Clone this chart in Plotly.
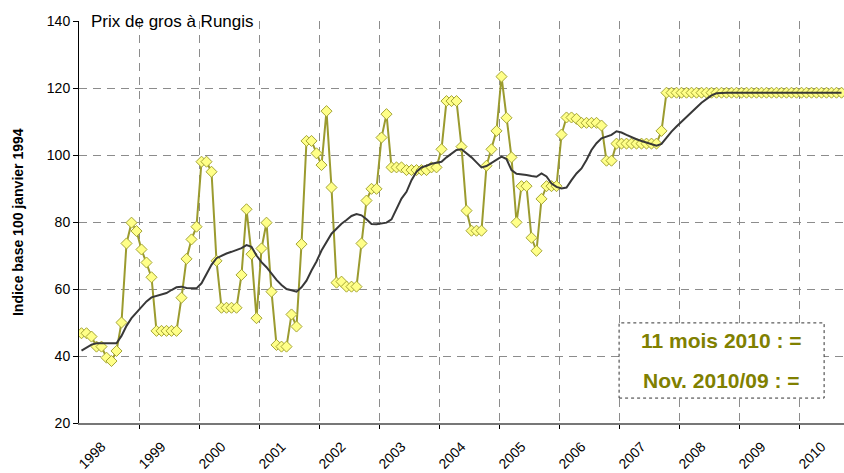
import plotly.graph_objects as go

# ---- data ----
years = [str(y) for y in range(1998, 2011)]
months = [f"{1998 + k // 12}-{k % 12 + 1:02d}" for k in range(153)]

prix = [
    46.8, 46.8, 45.8, 42.8, 42.8, 39.5, 38.5, 41.5, 50.0, 73.6, 79.8, 77.3,      # 1998
    71.8, 67.9, 63.5, 47.5, 47.5, 47.5, 47.5, 47.5, 57.4, 69.0, 74.8, 78.6,      # 1999
    98.0, 98.0, 95.0, 68.4, 54.4, 54.4, 54.4, 54.4, 64.2, 83.8, 70.4, 51.3,      # 2000
    72.1, 79.8, 59.2, 43.3, 42.8, 42.8, 52.4, 48.8, 73.4, 104.2, 104.2, 100.5,   # 2001
    97.0, 113.1, 90.3, 61.9, 62.2, 60.7, 60.7, 60.7, 73.6, 86.4, 89.9, 89.9,     # 2002
    105.2, 112.2, 96.3, 96.3, 96.3, 95.5, 95.5, 95.5, 95.5, 95.5, 96.3, 96.3,    # 2003
    101.7, 116.1, 116.1, 116.1, 102.5, 83.4, 77.4, 77.4, 77.4, 96.8, 101.7, 107.2,  # 2004
    123.4, 111.1, 99.3, 79.9, 90.7, 90.7, 75.3, 71.4, 86.9, 90.7, 90.7, 90.7,    # 2005
    106.1, 111.2, 111.2, 110.8, 109.6, 109.6, 109.6, 109.6, 108.8, 98.3, 98.3, 103.4,  # 2006
    103.4, 103.4, 103.4, 103.4, 103.4, 103.4, 103.4, 103.4, 107.2, 118.6, 118.6, 118.6,  # 2007
    118.6, 118.6, 118.6, 118.6, 118.6, 118.6, 118.6, 118.6, 118.6, 118.6, 118.6, 118.6,  # 2008
    118.6, 118.6, 118.6, 118.6, 118.6, 118.6, 118.6, 118.6, 118.6, 118.6, 118.6, 118.6,  # 2009
    118.6, 118.6, 118.6, 118.6, 118.6, 118.6, 118.6, 118.6, 118.6,                       # 2010
]

moyenne = [
    41.6, 42.6, 43.4, 43.8, 43.8, 43.8, 43.8, 43.8, 46.0, 49.0, 51.3, 53.0,      # 1998
    54.7, 56.3, 57.5, 57.9, 58.2, 58.8, 59.7, 60.5, 60.7, 60.3, 60.2, 60.2,      # 1999
    61.7, 64.5, 67.2, 69.2, 70.0, 70.6, 71.1, 71.6, 72.2, 73.1, 72.6, 70.0,      # 2000
    68.0, 66.5, 64.5, 62.7, 61.2, 60.0, 59.6, 59.2, 60.5, 62.5, 65.5, 68.2,      # 2001
    71.5, 74.0, 76.5, 78.0, 79.5, 80.6, 81.8, 82.4, 82.0, 80.8, 79.4, 79.3,      # 2002
    79.6, 79.8, 80.8, 84.0, 87.0, 89.0, 92.5, 95.0, 96.3, 96.8, 97.4, 97.7,      # 2003
    98.0, 99.3, 100.5, 101.5, 101.7, 100.5, 99.3, 97.8, 96.3, 96.7, 97.6, 98.7,  # 2004
    99.5, 98.8, 95.5, 94.4, 94.3, 94.0, 93.7, 93.5, 94.5, 93.6, 91.5, 90.5,      # 2005
    90.0, 90.3, 92.5, 94.5, 96.0, 98.5, 101.5, 103.5, 105.0, 105.6, 106.0, 107.1,  # 2006
    106.7, 106.0, 105.3, 104.7, 104.2, 103.8, 103.4, 102.8, 103.3, 105.2, 107.0, 108.5,  # 2007
    110.0, 111.5, 112.8, 114.2, 115.6, 116.8, 117.8, 118.4, 118.6, 118.6, 118.6, 118.6,  # 2008
    118.6, 118.6, 118.6, 118.6, 118.6, 118.6, 118.6, 118.6, 118.6, 118.6, 118.6, 118.6,  # 2009
    118.6, 118.6, 118.6, 118.6, 118.6, 118.6, 118.6, 118.6, 118.6,                       # 2010
]

y_ticks = [20, 40, 60, 80, 100, 120, 140]

x = list(range(len(months)))

OLIVE = "#9b9b2f"
GRID = "#8c8c8c"

fig = go.Figure()
fig.add_trace(go.Scatter(
    x=x, y=prix, customdata=months, mode="lines+markers",
    line=dict(color=OLIVE, width=2),
    marker=dict(symbol="diamond", size=8.5, color="#ffff88",
                line=dict(color="#a5a535", width=1)),
    hovertemplate="%{customdata}: %{y}<extra></extra>",
    showlegend=False,
))
fig.add_trace(go.Scatter(
    x=x, y=moyenne, customdata=months, mode="lines",
    line=dict(color="#383838", width=2),
    hovertemplate="%{customdata}: %{y}<extra></extra>",
    showlegend=False,
))

year_starts = [12 * k - 0.5 for k in range(1, 13)]
label_pos = [12 * k + 4.0 for k in range(len(years))]

fig.update_layout(
    width=844, height=473,
    margin=dict(l=79, r=0, t=21, b=50),
    paper_bgcolor="white", plot_bgcolor="white",
    font=dict(family="Liberation Sans, Arial, sans-serif", color="black"),
    xaxis=dict(
        range=[-0.5, 152.5],
        tickmode="array", tickvals=label_pos, ticktext=years,
        tickangle=-45, ticks="", showgrid=False, zeroline=False,
        tickfont=dict(size=14), ticklabelstandoff=8,
        showline=True, linecolor="#777777", linewidth=2,
        minor=dict(tickmode="array", tickvals=year_starts,
                   showgrid=True, gridcolor=GRID, griddash="8px,6px", gridwidth=1,
                   ticks="outside", ticklen=4, tickcolor="black"),
    ),
    yaxis=dict(
        range=[20, 140],
        tickmode="array", tickvals=y_ticks,
        ticks="outside", ticklen=5, tickcolor="black",
        showgrid=False, zeroline=False,
        tickfont=dict(size=14),
        showline=True, linecolor="black", linewidth=1,
        minor=dict(tickmode="array", tickvals=y_ticks[1:-1],
                   showgrid=True, gridcolor=GRID, griddash="8px,6px", gridwidth=1,
                   ticks=""),
    ),
    shapes=[dict(type="rect", xref="paper", yref="paper",
                 x0=0.706, x1=0.974, y0=0.062, y1=0.249,
                 line=dict(color="#333333", width=1, dash="dot"),
                 fillcolor="white", layer="above")],
    annotations=[
        dict(text="Indice base 100 janvier 1994", xref="paper", yref="paper",
             x=-0.0797, y=0.5, textangle=-90, showarrow=False,
             font=dict(size=14, weight="bold"), xanchor="center", yanchor="middle"),
        dict(text="Prix de gros à Rungis", xref="paper", yref="paper",
             x=0.0125, y=1.0, xanchor="left", yanchor="middle", showarrow=False,
             font=dict(size=17)),
        dict(text="11 mois 2010 : =", xref="paper", yref="paper",
             x=0.840, y=0.204, xanchor="center", yanchor="middle", showarrow=False,
             font=dict(size=21, weight="bold", color="#808000")),
        dict(text="Nov. 2010/09 : =", xref="paper", yref="paper",
             x=0.840, y=0.106, xanchor="center", yanchor="middle", showarrow=False,
             font=dict(size=21, weight="bold", color="#808000")),
    ],
)

fig.write_html("out.html", config={"displayModeBar": False},
               post_script="document.body.style.margin='0';document.body.style.padding='0';")
